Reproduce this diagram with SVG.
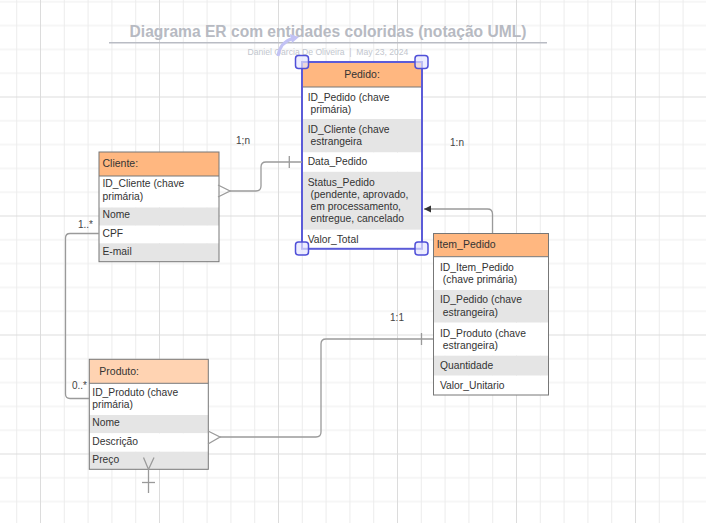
<svg xmlns="http://www.w3.org/2000/svg" width="706" height="523" viewBox="0 0 706 523">
<defs>
<pattern id="grid" patternUnits="userSpaceOnUse" x="40" y="96.5" width="119" height="119">
<rect x="0" y="0" width="119" height="119" fill="#ffffff"/>
<g fill="#ededed">
<rect x="23.8" y="0" width="1" height="119"/><rect x="47.6" y="0" width="1" height="119"/><rect x="71.4" y="0" width="1" height="119"/><rect x="95.2" y="0" width="1" height="119"/>
<rect x="0" y="23.8" width="119" height="1"/><rect x="0" y="47.6" width="119" height="1"/><rect x="0" y="71.4" width="119" height="1"/><rect x="0" y="95.2" width="119" height="1"/>
</g>
<g fill="#dcdcdc"><rect x="0" y="0" width="1" height="119"/><rect x="0" y="0" width="119" height="1"/></g>
</pattern>
<marker id="arr" markerWidth="8" markerHeight="8" refX="7" refY="4" orient="auto" markerUnits="userSpaceOnUse">
<path d="M0,0.5 L7,4 L0,7.5 Z" fill="#333"/>
</marker>
<style>
text{font-family:"Liberation Sans",Arial,sans-serif;fill:#333;}
.row{font-size:10.3px;}
.hdr{font-size:10.5px;}
.box{fill:none;stroke:#777;stroke-width:1;}
.hd{fill:#ffb780;}
.hdl{fill:#ffd3b2;}
.g{fill:#e5e5e5;}
.w{fill:#ffffff;}
.c{fill:none;stroke:#9a9a9a;stroke-width:1.3;}
.lbl{font-size:10px;fill:#444;}
.hdlr{fill:#e6e6ff;fill-opacity:0.7;stroke:#4f4fd8;stroke-width:1.5;}
</style>
</defs>
<rect x="0" y="0" width="706" height="523" fill="url(#grid)"/>

<g id="title">
<text x="328" y="37" text-anchor="middle" style="font-size:15.6px;font-weight:bold;fill:#b7bac2;">Diagrama ER com entidades coloridas (notação UML)</text>
<line x1="109" y1="42.7" x2="547" y2="42.7" stroke="#b9bcc4" stroke-width="1.5"/>
<text x="328" y="55" text-anchor="middle" xml:space="preserve" style="font-size:8.6px;fill:#c2c6ce;">Daniel Garcia De Oliveira  |  May 23, 2024</text>
</g>

<g id="cliente">
<rect class="hd" x="99" y="152" width="120" height="24"/>
<rect class="w" x="99" y="176" width="120" height="31.5"/>
<rect class="g" x="99" y="207.5" width="120" height="18.2"/>
<rect class="w" x="99" y="225.7" width="120" height="17.6"/>
<rect class="g" x="99" y="243.3" width="120" height="18.4"/>
<rect class="box" x="99" y="152" width="120" height="109.7"/>
<line x1="99" y1="176" x2="219" y2="176" stroke="#777"/>
<text class="hdr" x="102.5" y="166.5">Cliente:</text>
<text class="row" x="102.5" y="187">ID_Cliente (chave</text>
<text class="row" x="102.5" y="199.5">primária)</text>
<text class="row" x="102.5" y="218">Nome</text>
<text class="row" x="102.5" y="236.5">CPF</text>
<text class="row" x="102.5" y="254.5">E-mail</text>
</g>

<g id="pedido">
<rect class="hd" x="302" y="62" width="120" height="25"/>
<rect class="w" x="302" y="87" width="120" height="32"/>
<rect class="g" x="302" y="119" width="120" height="33.5"/>
<rect class="w" x="302" y="152.5" width="120" height="19.3"/>
<rect class="g" x="302" y="171.8" width="120" height="58"/>
<rect class="w" x="302" y="229.8" width="120" height="19"/>
<line x1="302" y1="87" x2="422" y2="87" stroke="#777"/>
<rect x="302" y="62" width="120" height="186.8" fill="none" stroke="#5b5bd8" stroke-width="2"/>
<text class="hdr" x="362" y="78" text-anchor="middle">Pedido:</text>
<text class="row" x="307.7" y="100.5">ID_Pedido (chave</text>
<text class="row" x="307.7" y="112.7" xml:space="preserve"> primária)</text>
<text class="row" x="307.7" y="133">ID_Cliente (chave</text>
<text class="row" x="307.7" y="145" xml:space="preserve"> estrangeira</text>
<text class="row" x="307.7" y="165">Data_Pedido</text>
<text class="row" x="307.7" y="185.5">Status_Pedido</text>
<text class="row" x="307.7" y="197.7" xml:space="preserve"> (pendente, aprovado,</text>
<text class="row" x="307.7" y="209.8" xml:space="preserve"> em processamento,</text>
<text class="row" x="307.7" y="222" xml:space="preserve"> entregue, cancelado</text>
<text class="row" x="307.7" y="243">Valor_Total</text>
<rect class="hdlr" x="295.5" y="55.5" width="13" height="13" rx="3"/>
<rect class="hdlr" x="415" y="55.5" width="13" height="13" rx="3"/>
<rect class="hdlr" x="295.5" y="242" width="13" height="13" rx="3"/>
<rect class="hdlr" x="415" y="242" width="13" height="13" rx="3"/>
<path d="M278,56 Q280,42 293,38.5" fill="none" stroke="#c2c2f4" stroke-width="3"/>
<path d="M290,34 L299,37 L292,43 Z" fill="#c2c2f4"/>
</g>

<g id="item_pedido">
<rect class="hd" x="433.5" y="233.5" width="115" height="23.2"/>
<rect class="w" x="433.5" y="256.7" width="115" height="33.3"/>
<rect class="g" x="433.5" y="290" width="115" height="32.7"/>
<rect class="w" x="433.5" y="322.7" width="115" height="33"/>
<rect class="g" x="433.5" y="355.7" width="115" height="20"/>
<rect class="w" x="433.5" y="375.7" width="115" height="19.3"/>
<rect class="box" x="433.5" y="233.5" width="115" height="161.5"/>
<line x1="433.5" y1="256.7" x2="548.5" y2="256.7" stroke="#777"/>
<text class="hdr" x="436.7" y="248">Item_Pedido</text>
<text class="row" x="440" y="270.5">ID_Item_Pedido</text>
<text class="row" x="440" y="283" xml:space="preserve"> (chave primária)</text>
<text class="row" x="440" y="303">ID_Pedido (chave</text>
<text class="row" x="440" y="316" xml:space="preserve"> estrangeira)</text>
<text class="row" x="440" y="336.5">ID_Produto (chave</text>
<text class="row" x="440" y="349" xml:space="preserve"> estrangeira)</text>
<text class="row" x="440" y="369">Quantidade</text>
<text class="row" x="440" y="389">Valor_Unitario</text>
</g>

<g id="produto">
<rect class="hdl" x="89.3" y="359.3" width="119" height="24"/>
<rect class="w" x="89.3" y="383.3" width="119" height="31.7"/>
<rect class="g" x="89.3" y="415" width="119" height="18.3"/>
<rect class="w" x="89.3" y="433.3" width="119" height="18.4"/>
<rect class="g" x="89.3" y="451.7" width="119" height="17.6"/>
<rect class="box" x="89.3" y="359.3" width="119" height="110"/>
<line x1="89.3" y1="383.3" x2="208.3" y2="383.3" stroke="#777"/>
<text class="hdr" x="99.3" y="374.5">Produto:</text>
<text class="row" x="92.3" y="396">ID_Produto (chave</text>
<text class="row" x="92.3" y="408">primária)</text>
<text class="row" x="92.3" y="426">Nome</text>
<text class="row" x="92.3" y="445">Descrição</text>
<text class="row" x="92.3" y="463">Preço</text>
</g>

<g id="connectors">
<path class="c" d="M230,191 L256,191 Q261,191 261,186 L261,167 Q261,162 266,162 L302,162"/>
<path class="c" d="M218,185 L230,191 L218,197"/>
<path class="c" d="M289.3,156 L289.3,168"/>
<path class="c" d="M492.5,233 L492.5,214 Q492.5,209 487.5,209 L424,209" marker-end="url(#arr)"/>
<path class="c" d="M220,437 L316,437 Q321,437 321,432 L321,344 Q321,339 326,339 L433,339"/>
<path class="c" d="M208,431 L220,437 L208,444"/>
<path class="c" d="M421.5,333 L421.5,345"/>
<path class="c" d="M99,233.5 L70,233.5 Q65.5,233.5 65.5,238 L65.5,394 Q65.5,398.5 70,398.5 L89,398.5"/>
<path class="c" d="M143.5,457.5 L148.5,469.5 L154,457.5"/>
<path class="c" d="M148.5,469.5 L148.5,493" stroke="#777"/>
<path class="c" d="M142,482.5 L155,482.5"/>
<text class="lbl" x="243" y="144" text-anchor="middle">1;n</text>
<text class="lbl" x="457" y="146" text-anchor="middle">1:n</text>
<text class="lbl" x="397" y="321" text-anchor="middle">1:1</text>
<text class="lbl" x="93" y="227.5" text-anchor="end">1..*</text>
<text class="lbl" x="87" y="388.5" text-anchor="end">0..*</text>
</g>
</svg>
